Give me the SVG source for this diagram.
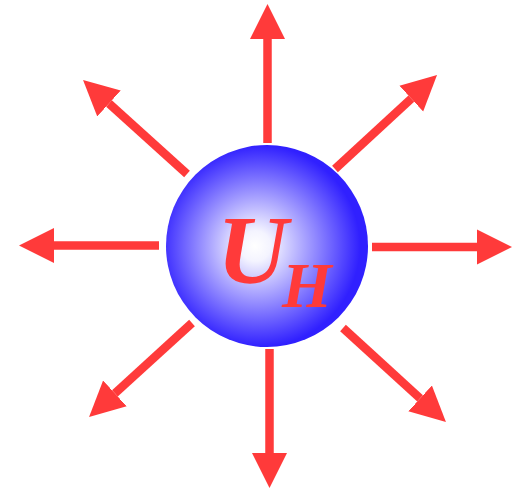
<svg xmlns="http://www.w3.org/2000/svg" width="520" height="490" viewBox="0 0 520 490">
<style>
.arr{stroke:#ff3a3a;stroke-width:8.5;fill:none;marker-end:url(#head)}
.lbl{font-family:"Liberation Serif","Times New Roman",serif;font-weight:bold;font-style:italic;fill:#ff3a3a}
</style>
<defs>
<radialGradient id="sph" cx="0.46" cy="0.5" r="0.5" fx="0.44" fy="0.5">
<stop offset="0" stop-color="#ffffff"/>
<stop offset="0.15" stop-color="#f4f4ff"/>
<stop offset="1" stop-color="#3020ff"/>
</radialGradient>
<marker id="head" markerUnits="userSpaceOnUse" markerWidth="36" markerHeight="36" viewBox="0 -18 36 36" refX="0" refY="0" orient="auto">
<path d="M0,-17.5 L35,0 L0,17.5 z" fill="#ff3a3a"/>
</marker>
</defs>
<g id="connectors">
<line class="arr" x1="267.5" y1="143" x2="267.5" y2="39"/>
<line class="arr" x1="269.5" y1="349" x2="269.5" y2="453"/>
<line class="arr" x1="159" y1="245.5" x2="54" y2="245.5"/>
<line class="arr" x1="372" y1="247" x2="477" y2="247"/>
<line class="arr" x1="187" y1="174" x2="109" y2="103.5"/>
<line class="arr" x1="335" y1="169" x2="411.3" y2="98.7"/>
<line class="arr" x1="192" y1="323" x2="114.9" y2="393.4"/>
<line class="arr" x1="343" y1="328" x2="420.1" y2="398.4"/>
</g>
<g id="sphere">
<circle cx="267" cy="246" r="101" fill="url(#sph)"/>
<text class="lbl" x="217" y="283" font-size="98">U<tspan x="282" y="307" font-size="64">H</tspan></text>
</g>
</svg>
